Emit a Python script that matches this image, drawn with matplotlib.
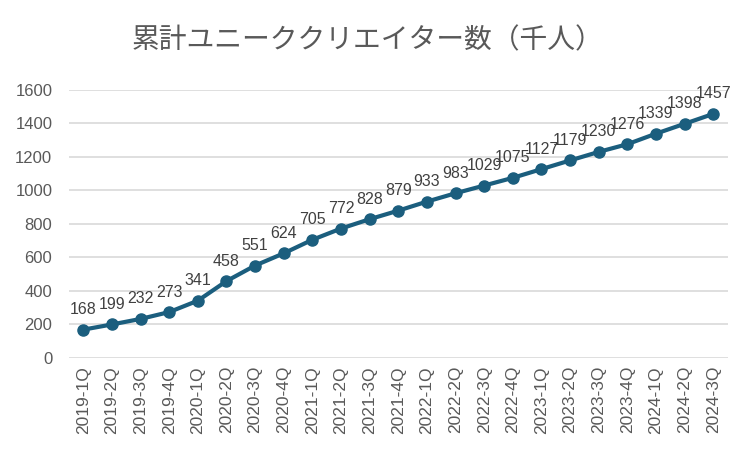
import matplotlib
matplotlib.use("Agg")
import matplotlib.pyplot as plt

plt.rcParams['font.family'] = ['Liberation Sans', 'Noto Sans CJK JP', 'DejaVu Sans']

quarters: list[str] = [
    "2019-1Q", "2019-2Q", "2019-3Q", "2019-4Q",
    "2020-1Q", "2020-2Q", "2020-3Q", "2020-4Q",
    "2021-1Q", "2021-2Q", "2021-3Q", "2021-4Q",
    "2022-1Q", "2022-2Q", "2022-3Q", "2022-4Q",
    "2023-1Q", "2023-2Q", "2023-3Q", "2023-4Q",
    "2024-1Q", "2024-2Q", "2024-3Q",
]
creators: list[int] = [
    168, 199, 232, 273, 341, 458, 551, 624, 705, 772, 828, 879,
    933, 983, 1029, 1075, 1127, 1179, 1230, 1276, 1339, 1398, 1457,
]

line_color = "#1b5e7e"
text_color = "#595959"

fig = plt.figure(figsize=(7.5, 4.5), dpi=100)
ax = fig.add_axes([0.092, 0.205, 0.878, 0.595])

x = list(range(len(quarters)))
ax.plot(x, creators, color=line_color, lw=3.0, marker="o", markersize=8, zorder=3)

for xi, v in zip(x, creators):
    ax.annotate(str(v), (xi, v), xytext=(0, 9), textcoords="offset points",
                ha="center", va="bottom", fontsize=11.5, color="#404040")

ax.set_xlim(-0.5, len(quarters) - 0.5)
ax.set_ylim(0, 1600)
ax.set_yticks(range(0, 1601, 200))
ax.set_xticks(x)
ax.set_xticklabels(quarters, rotation=90, fontsize=12.5, color=text_color)
ax.tick_params(axis="y", labelsize=12, colors=text_color, length=0, pad=12)
ax.tick_params(axis="x", length=0, pad=6)
ax.grid(axis="y", color="#d9d9d9", lw=1.2)
ax.set_axisbelow(True)
for s in ax.spines.values():
    s.set_visible(False)

fig.text(0.49, 0.91, "累計ユニーククリエイター数（千人）", ha="center", va="center",
         fontsize=20, color=text_color, family=['Noto Sans CJK JP', 'DejaVu Sans'])

fig.savefig("out.png", dpi=100)
